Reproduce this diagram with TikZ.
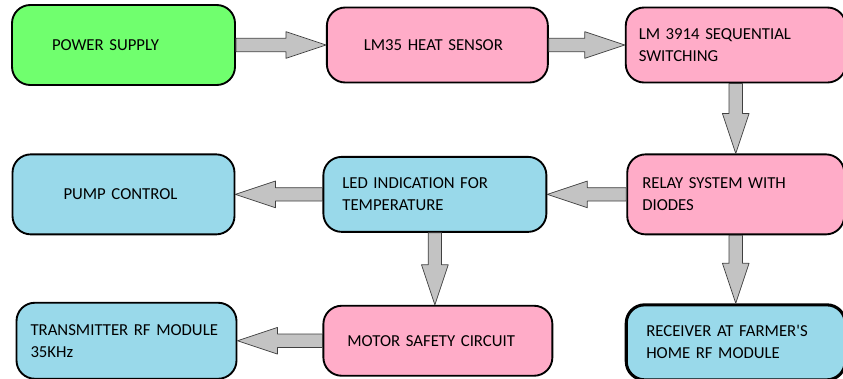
\documentclass[tikz,border=0pt]{standalone}
\usepackage{fontspec}
\setmainfont{Carlito}
\usepackage{xcolor}
\usepackage{tikz}
\usetikzlibrary{positioning, calc}

\definecolor{boxgreen}{RGB}{112,255,110}
\definecolor{boxpink}{RGB}{255,172,200}
\definecolor{boxblue}{RGB}{153,217,234}
\definecolor{arrowgray}{RGB}{195,195,195}

% wide grey block arrow from #1 to #2
\newcommand{\fatarrow}[2]{%
  \path ($(#2)!1.2cm!(#1)$) coordinate (fa-base);
  \draw[fatarrow] ($(#1)!0.2cm!90:(#2)$) -- ($(fa-base)!0.2cm!90:(#2)$) -- ($(fa-base)!0.4cm!90:(#2)$) -- (#2)
    -- ($(fa-base)!0.4cm!-90:(#2)$) -- ($(fa-base)!0.2cm!-90:(#2)$) -- ($(#1)!0.2cm!-90:(#2)$) -- cycle;}

\begin{document}
\begin{tikzpicture}[
    block/.style={rectangle, rounded corners=0.55cm, draw=black, line width=1.6pt, minimum height=2.25cm, align=left, font=\fontsize{14.3}{18.8}\selectfont},
    fatarrow/.style={fill=arrowgray, draw=black!75, line width=0.6pt, line join=round},
]
\useasboundingbox (0,0) rectangle (25.29,-11.34);

\node[block, fill=boxgreen, minimum height=2.4cm, inner xsep=1.2cm, text width=4.29cm] (power) at (3.705,-1.35) {POWER SUPPLY};
\node[block, fill=boxpink, inner xsep=1.11cm, text width=4.41cm, right=2.7cm of power] (sensor) {LM35 HEAT SENSOR};
\node[block, fill=boxpink, inner xsep=0.39cm, text width=5.82cm, right=2.28cm of sensor] (switching) {LM 3914 SEQUENTIAL\\SWITCHING};

\node[block, fill=boxpink, minimum height=2.4cm, inner xsep=0.45cm, text width=5.61cm, below=2.1cm of switching] (relay) {RELAY SYSTEM WITH\\DIODES};
\node[block, fill=boxblue, inner xsep=0.57cm, text width=5.55cm, left=2.37cm of relay] (led) {LED INDICATION FOR\\TEMPERATURE};
\node[block, fill=boxblue, minimum height=2.4cm, inner xsep=1.53cm, text width=3.6cm, left=2.61cm of led] (pump) {PUMP CONTROL};

\node[block, fill=boxpink, minimum height=2.1cm, inner xsep=0.72cm, text width=5.43cm, below=2.16cm of led, xshift=0.09cm] (motor) {MOTOR SAFETY CIRCUIT};
\node[block, fill=boxblue, minimum height=2.28cm, inner xsep=0.42cm, text width=5.76cm, left=2.55cm of motor] (transmitter) {TRANSMITTER RF MODULE\\35KHz};
\node[block, fill=boxblue, line width=2.6pt, inner xsep=0.6cm, text width=5.37cm, below=2.04cm of relay] (receiver) {RECEIVER AT FARMER\textquotesingle S\\HOME RF MODULE};

\fatarrow{power.east}{sensor.west}
\fatarrow{sensor.east}{sensor.east -| switching.west}
\fatarrow{switching.south}{switching.south |- relay.north}
\fatarrow{relay.west}{relay.west -| led.east}
\fatarrow{led.west}{led.west -| pump.east}
\fatarrow{led.south}{led.south |- motor.north}
\fatarrow{relay.south}{relay.south |- receiver.north}
\fatarrow{motor.west}{motor.west -| transmitter.east}

\end{tikzpicture}
\end{document}
